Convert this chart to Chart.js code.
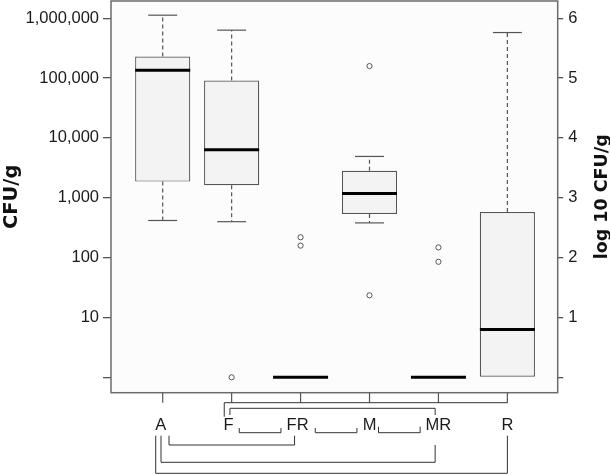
<!DOCTYPE html>
<html>
<head>
<meta charset="utf-8">
<title>CFU/g box plot</title>
<script src="https://cdn.jsdelivr.net/npm/chart.js@4.4.1/dist/chart.umd.min.js"></script>
<style>
  html, body { margin: 0; padding: 0; background: #fff; }
  #wrap { width: 610px; height: 475px; position: relative; }
</style>
</head>
<body>
<div id="wrap"><canvas id="boxChart"></canvas></div>
<script>
// groups on the x axis
const categories = ["A", "F", "FR", "M", "MR", "R"];

// box plot summary per group, in log10 CFU/g (null = no box / whisker)
const whiskerLow = [2.62, 2.60, null, 2.58, null, null];
const boxLow = [3.27, 3.21, null, 2.73, null, 0.0];
const medians = [5.13, 3.80, 0.0, 3.07, 0.0, 0.80];
const boxHigh = [5.36, 4.96, null, 3.45, null, 2.76];
const whiskerHigh = [6.05, 5.80, null, 3.69, null, 5.76];

// outliers (group, log10 CFU/g)
const outlierGroup = ["F", "FR", "FR", "M", "M", "MR", "MR"];
const outlierValues = [0.0, 2.34, 2.20, 5.20, 1.37, 2.17, 1.93];

// tick labels: left axis in CFU/g, right axis in log10
const tickValues = [0, 1, 2, 3, 4, 5, 6];
const cfuTickLabels = ["", "10", "100", "1,000", "10,000", "100,000", "1,000,000"];
const logTickLabels = ["", "1", "2", "3", "4", "5", "6"];

// pairwise comparisons drawn as brackets under the axis
const comparisons = [
  ["F", "R"], ["F", "MR"],
  ["F", "FR"], ["FR", "M"], ["M", "MR"],
  ["A", "FR"], ["A", "MR"], ["A", "R"],
];

const LABEL_FONT = "16.5px 'Liberation Sans', Arial, sans-serif";
const TITLE_FONT = "bold 19.5px 'DejaVu Sans', sans-serif";
const TITLE2_FONT = "bold 17.5px 'DejaVu Sans', sans-serif";

// bracket geometry, same order as comparisons (px offsets from tick positions)
const bracketGeom = [
  { y: 402.7, dx1: -7.4, dx2: 0, leg1: [402.7, 416.7], leg2: null },
  { y: 408.3, dx1: -1.7, dx2: -3.3, leg1: [408.3, 415], leg2: [408.3, 415] },
  { y: 432.7, dx1: 7.6, dx2: -19.6, leg1: [428, 432.7], leg2: [428, 432.7] },
  { y: 432.7, dx1: 14.7, dx2: -12.6, leg1: [428, 432.7], leg2: [428, 432.7] },
  { y: 432.7, dx1: 9, dx2: -18.3, leg1: [426.7, 432.7], leg2: [426.7, 432.7] },
  { y: 445, dx1: 6.3, dx2: -6, leg1: [435.7, 445], leg2: [435.7, 445] },
  { y: 462.3, dx1: -1.7, dx2: -3.3, leg1: [435.7, 462.3], leg2: [445, 462.3] },
  { y: 473.3, dx1: -7, dx2: 0, leg1: [435.7, 473.3], leg2: [435.7, 473.3] },
];
const labelNudge = [-2, -3, -3, 0, 0, 0];

function line(ctx, x1, y1, x2, y2) {
  ctx.beginPath();
  ctx.moveTo(x1, y1);
  ctx.lineTo(x2, y2);
  ctx.stroke();
}

const boxExtras = {
  id: "boxExtras",
  beforeDraw(chart) {
    const { ctx, chartArea: a } = chart;
    ctx.save();
    ctx.fillStyle = "#fcfcfc";
    ctx.fillRect(a.left, a.top, a.right - a.left, a.bottom - a.top);
    ctx.restore();
  },
  beforeDatasetsDraw(chart) {
    // whiskers
    const { ctx } = chart;
    const xs = chart.scales.x;
    const ys = chart.scales.y;
    const capHalf = xs.getPixelForValue(0.21) - xs.getPixelForValue(0);
    ctx.save();
    ctx.strokeStyle = "#555";
    ctx.lineWidth = 1.2;
    categories.forEach((c, i) => {
      const x = xs.getPixelForValue(i);
      const pairs = [[boxHigh[i], whiskerHigh[i]], [boxLow[i], whiskerLow[i]]];
      pairs.forEach(([from, to]) => {
        if (from == null || to == null) return;
        ctx.setLineDash([4, 3]);
        line(ctx, x, ys.getPixelForValue(from), x, ys.getPixelForValue(to));
        ctx.setLineDash([]);
        const yy = ys.getPixelForValue(to);
        line(ctx, x - capHalf, yy, x + capHalf, yy);
      });
    });
    ctx.restore();
  },
  afterDraw(chart) {
    const { ctx, chartArea: a } = chart;
    const xs = chart.scales.x;
    const tx = (name) => xs.getPixelForValue(categories.indexOf(name));
    ctx.save();

    // frame
    ctx.strokeStyle = "#6b6b6b";
    ctx.lineWidth = 1.5;
    ctx.strokeRect(a.left, a.top, a.right - a.left, a.bottom - a.top);

    // x ticks
    ctx.strokeStyle = "#555";
    ctx.lineWidth = 1.2;
    categories.forEach((c) => line(ctx, tx(c), a.bottom, tx(c), a.bottom + 10));

    // group labels
    ctx.fillStyle = "#1a1a1a";
    ctx.font = LABEL_FONT;
    ctx.textAlign = "center";
    ctx.textBaseline = "alphabetic";
    categories.forEach((c, i) => ctx.fillText(c, tx(c) + labelNudge[i], 430));

    // comparison brackets
    ctx.strokeStyle = "#333";
    ctx.lineWidth = 1;
    comparisons.forEach(([p, q], k) => {
      const g = bracketGeom[k];
      const x1 = tx(p) + g.dx1;
      const x2 = tx(q) + g.dx2;
      line(ctx, x1, g.y, x2, g.y);
      if (g.leg1) line(ctx, x1, g.leg1[0], x1, g.leg1[1]);
      if (g.leg2) line(ctx, x2, g.leg2[0], x2, g.leg2[1]);
    });

    // axis titles (both read bottom to top)
    const midY = (a.top + a.bottom) / 2;
    ctx.fillStyle = "#111";
    [["CFU/g", TITLE_FONT, 17.3], ["log 10 CFU/g", TITLE2_FONT, 606.7]].forEach(([t, f, x]) => {
      ctx.save();
      ctx.font = f;
      ctx.translate(x, midY);
      ctx.rotate(-Math.PI / 2);
      ctx.textAlign = "center";
      ctx.fillText(t, 0, 0);
      ctx.restore();
    });
    ctx.restore();
  },
};

let boxChart = null;

document.addEventListener("DOMContentLoaded", () => {
  initBoxChart();
});

function noEdgePadding(s) {
  s.paddingTop = 0;
  s.paddingBottom = 0;
}

function initBoxChart() {
  const el = document.getElementById("boxChart");
  if (!el) return;
  if (boxChart) boxChart.destroy();

  const tickFont = { family: "'Liberation Sans', Arial, sans-serif", size: 16.5 };

  boxChart = new Chart(el, {
    type: "bar",
    data: {
      datasets: [
        {
          type: "scatter",
          label: "median",
          order: 0,
          data: categories.map((c, i) => ({ x: i, y: medians[i] })),
          pointStyle: "line",
          pointRadius: 27.5,
          pointHoverRadius: 27.5,
          borderColor: "#000",
          borderWidth: 3,
        },
        {
          type: "scatter",
          label: "outliers",
          order: 1,
          data: outlierGroup.map((g, i) => ({ x: categories.indexOf(g), y: outlierValues[i] })),
          pointStyle: "circle",
          pointRadius: 2.6,
          borderColor: "#555",
          backgroundColor: "#fff",
          borderWidth: 1,
        },
        {
          type: "bar",
          label: "box",
          order: 2,
          data: categories.map((c, i) => ({
            x: i,
            y: boxLow[i] == null ? null : [boxLow[i], boxHigh[i]],
          })),
          backgroundColor: "#f3f3f3",
          borderColor: "#555",
          borderWidth: 1.2,
          borderSkipped: false,
          barPercentage: 0.8,
          categoryPercentage: 1,
        },
      ],
    },
    options: {
      responsive: true,
      maintainAspectRatio: false,
      animation: false,
      events: [],
      layout: { autoPadding: false, padding: { top: 1, bottom: 82.3, left: 0, right: 0 } },
      plugins: {
        legend: { display: false },
        tooltip: { enabled: false },
      },
      scales: {
        x: {
          type: "linear",
          display: false,
          min: -0.75,
          max: 5.73,
          offset: false,
          afterBuildTicks: (s) => { s.ticks = categories.map((c, i) => ({ value: i })); },
        },
        y: {
          type: "linear",
          position: "left",
          min: -0.257,
          max: 6.287,
          afterBuildTicks: (s) => { s.ticks = tickValues.map((v) => ({ value: v })); },
          afterFit: (s) => { s.width = 111; noEdgePadding(s); },
          border: { display: false },
          grid: { drawOnChartArea: false, drawTicks: true, tickLength: 8, color: "#555", lineWidth: 1.3 },
          ticks: {
            padding: 4,
            color: "#1a1a1a",
            font: tickFont,
            callback: (v) => cfuTickLabels[tickValues.indexOf(v)],
          },
        },
        y1: {
          type: "linear",
          position: "right",
          min: -0.257,
          max: 6.287,
          afterBuildTicks: (s) => { s.ticks = tickValues.map((v) => ({ value: v })); },
          afterFit: (s) => { s.width = 52.3; noEdgePadding(s); },
          border: { display: false },
          grid: { drawOnChartArea: false, drawTicks: true, tickLength: 5.5, color: "#555", lineWidth: 1.3 },
          ticks: {
            padding: 5,
            color: "#1a1a1a",
            font: tickFont,
            callback: (v) => logTickLabels[tickValues.indexOf(v)],
          },
        },
      },
    },
    plugins: [boxExtras],
  });
}
</script>
</body>
</html>
